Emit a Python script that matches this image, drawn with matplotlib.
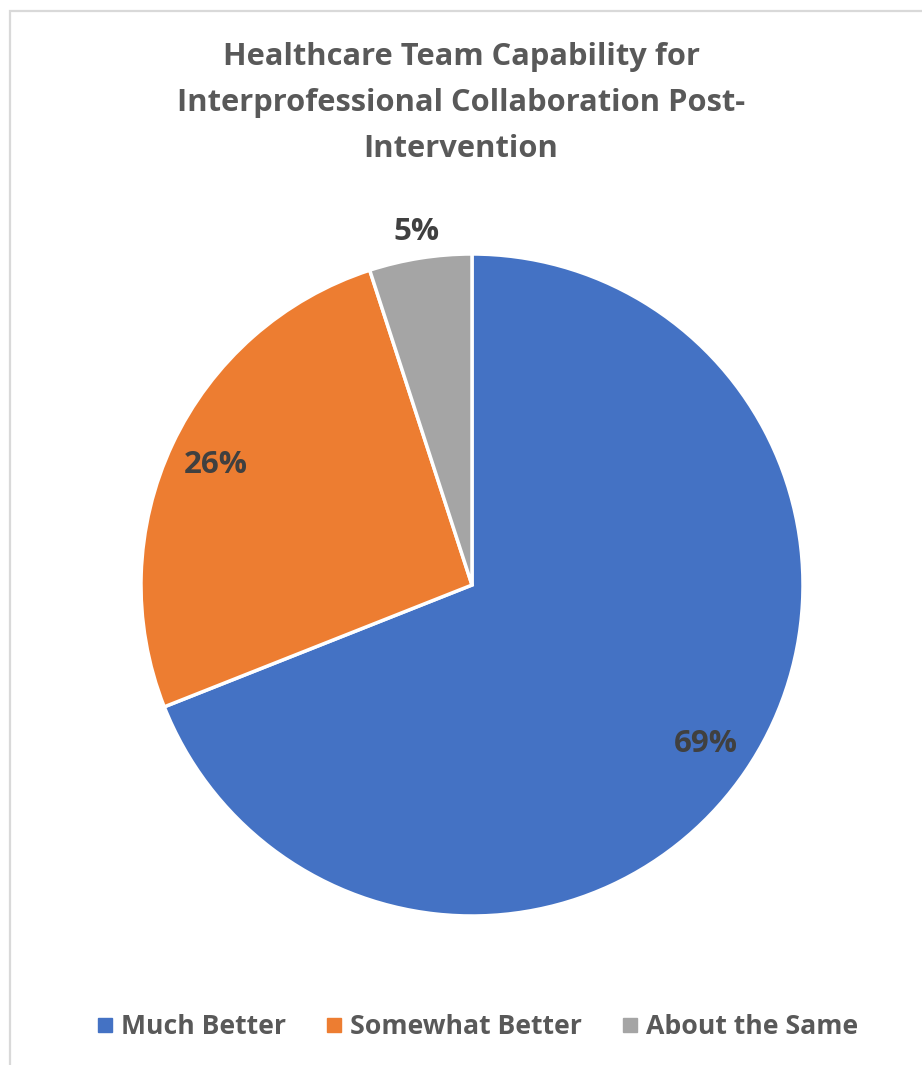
import matplotlib
matplotlib.use("Agg")
import matplotlib.pyplot as plt
from matplotlib.lines import Line2D
from matplotlib.patches import Rectangle
import numpy as np

categories = ["Much Better", "Somewhat Better", "About the Same"]
values = [69, 26, 5]
colors = ["#4472C4", "#ED7D31", "#A5A5A5"]
title = "Healthcare Team Capability for\nInterprofessional Collaboration Post-\nIntervention"

W, H = 922, 1065
DPI = 100
plt.rcParams['font.family'] = ['Open Sans', 'DejaVu Sans']
TXT = "#595959"
LBL = "#404040"

fig = plt.figure(figsize=(W / DPI, H / DPI), dpi=DPI)
fig.patch.set_facecolor("white")

# chart border (light gray)
fig.patches.append(Rectangle((10 / W, -0.05), 1.1, (H - 11) / H + 0.05,
                             transform=fig.transFigure, fill=False,
                             edgecolor="#D9D9D9", linewidth=1.6))

cx, cy, r = 472, 585, 331
ax = fig.add_axes([(cx - r) / W, (H - cy - r) / H, 2 * r / W, 2 * r / H])
wedges, texts, autotexts = ax.pie(
    values, colors=colors, startangle=90, counterclock=False,
    autopct=lambda p: f"{p:.0f}%", pctdistance=0.855, radius=1,
    wedgeprops=dict(edgecolor="white", linewidth=2.5),
    textprops=dict(color=LBL, fontsize=22.5, fontweight="bold"))
ax.set_xlim(-1, 1)
ax.set_ylim(-1, 1)
ax.set_aspect("equal")
ax.axis("off")

# small slice label outside
x, y = autotexts[2].get_position()
d = np.hypot(x, y)
autotexts[2].set_position((x / d * 1.08, y / d * 1.08))

fig.text(0.5, (H - 103) / H, title, ha="center", va="center",
         fontsize=22.2, fontweight="bold", color=TXT, linespacing=1.68)

handles = [Line2D([0], [0], marker="s", linestyle="none", markersize=10,
                  markerfacecolor=c, markeredgecolor=c) for c in colors]
fig.legend(handles, categories, loc="center", bbox_to_anchor=(0.518, (H - 1027) / H),
           ncol=3, frameon=False, handlelength=0.6, handletextpad=0.3,
           columnspacing=1.5, prop=dict(size=19.2, weight="bold"), labelcolor=TXT)

fig.savefig("out.png", dpi=DPI, facecolor="white")
